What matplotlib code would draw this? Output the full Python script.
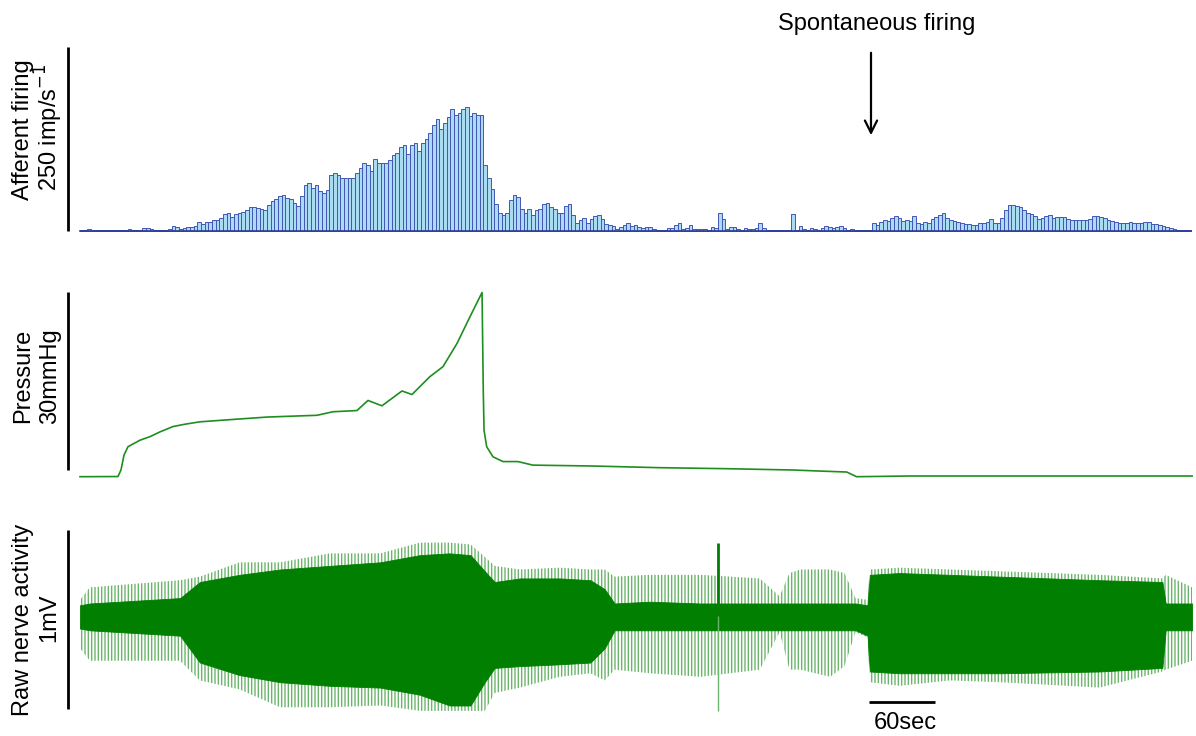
import numpy as np
import matplotlib
matplotlib.use("Agg")
import matplotlib.pyplot as plt

plt.rcParams['font.family'] = ['Liberation Sans', 'DejaVu Sans']
plt.rcParams['hatch.linewidth'] = 1.0

# ---- afferent firing histogram (imp/s), bins of 10/3 s starting at t=0 ----
BIN_S = 10.0 / 3.0
firing = [
    # 0-145 s
    1, 2, 3, 2, 1, 1, 1, 1, 2, 2, 1, 1, 1, 3, 2, 2, 2, 4, 4, 3, 2, 2, 2, 2,
    3, 7, 5, 3, 4, 6, 5, 7, 12, 10, 12, 12, 15, 15, 18, 23, 24, 19, 23, 24,
    # 145-366 s (rising phase)
    26, 29, 33, 33, 31, 30, 29, 35, 41, 44, 48, 49, 45, 44, 38, 34, 48, 63,
    65, 58, 63, 54, 52, 56, 76, 79, 76, 72, 72, 72, 72, 79, 86, 92, 90, 82,
    98, 92, 92, 92, 97, 103, 106, 114, 117, 105, 117, 120, 109, 120, 125,
    133, 144, 152, 139, 147, 155, 166, 158, 160, 166, 169, 156, 160, 158, 158,
    # 366-509 s (after release)
    90, 72, 57, 37, 24, 22, 24, 42, 49, 46, 30, 24, 30, 22, 29, 30, 37, 38,
    33, 30, 24, 24, 34, 37, 22, 11, 15, 18, 11, 16, 20, 22, 16, 10, 8, 7, 3,
    5, 8, 11, 7, 8, 5,
    # 509-726 s
    4, 5, 5, 3, 2, 1, 1, 4, 4, 8, 11, 3, 4, 8, 3, 3, 3, 3, 1, 5, 4, 24, 16,
    3, 5, 5, 3, 2, 4, 3, 3, 4, 11, 4, 2, 1, 1, 1, 1, 2, 1, 23, 2, 7, 3, 2, 4,
    3, 1, 4, 7, 5, 4, 5, 7, 4, 2, 3, 2, 1, 1, 2, 2, 11, 8,
    # 726-1010 s (spontaneous firing)
    12, 15, 14, 18, 20, 18, 14, 15, 14, 20, 11, 10, 12, 11, 16, 19, 22, 24,
    18, 15, 14, 12, 11, 10, 10, 8, 8, 11, 11, 12, 16, 11, 11, 18, 29, 35, 35,
    34, 33, 29, 24, 23, 20, 16, 18, 20, 22, 18, 19, 19, 19, 16, 15, 15, 15,
    15, 15, 16, 20, 20, 19, 18, 15, 14, 12, 11, 11, 11, 12, 11, 11, 11, 12,
    12, 10, 10, 8, 7, 5, 4, 3, 1, 2, 1, 1,
]

# ---- intravesical pressure (mmHg) ----
pressure_t = [0, 34.5, 37.3, 40, 43.6, 54.5, 63.6, 72.7, 84.5, 95.5, 109, 139,
              170, 184.5, 215.5, 230, 251.8, 261.8, 274.5, 292.7, 301.8, 318,
              330, 342.7, 354.5, 365.5, 366.6, 367.3, 369.7, 375.5, 384.5, 398,
              411.8, 466.4, 527, 588, 648, 672.7, 697, 706, 754.5, 1011]
pressure = [0.05, 0.08, 1.2, 3.7, 5.1, 6.2, 6.8, 7.6, 8.5, 8.9, 9.3, 9.7,
            10.1, 10.2, 10.4, 11.0, 11.2, 12.9, 12.0, 14.5, 13.9, 16.9,
            18.6, 22.5, 27.0, 31.1, 14.7, 7.9, 5.1, 3.4, 2.6, 2.6,
            2.0, 1.85, 1.57, 1.4, 1.18, 1.0, 0.84, 0.05, 0.17, 0.17]

# ---- raw nerve activity envelope (mV) ----
raw_t = [0, 9, 91, 109, 145, 182, 227, 273, 309, 336, 355, 368, 377, 400, 436,
         464, 477, 486, 518, 564, 618, 636, 645, 655, 682, 695, 705, 716, 718,
         745, 791, 836, 927, 984, 987, 1011]
core_hi = [0.06, 0.07, 0.10, 0.19, 0.23, 0.26, 0.28, 0.30, 0.34, 0.35, 0.34,
           0.25, 0.19, 0.21, 0.21, 0.20, 0.15, 0.07, 0.08, 0.07, 0.07, 0.07,
           0.07, 0.07, 0.07, 0.07, 0.07, 0.06, 0.23, 0.24, 0.23, 0.22, 0.20,
           0.19, 0.07, 0.07]
core_lo = [-0.07, -0.08, -0.11, -0.26, -0.33, -0.37, -0.39, -0.40, -0.44,
           -0.50, -0.50, -0.37, -0.29, -0.28, -0.27, -0.26, -0.18, -0.08,
           -0.08, -0.08, -0.08, -0.08, -0.08, -0.08, -0.08, -0.08, -0.08,
           -0.11, -0.31, -0.32, -0.32, -0.32, -0.31, -0.29, -0.08, -0.08]
spike_hi = [0.09, 0.16, 0.20, 0.22, 0.30, 0.30, 0.35, 0.35, 0.41, 0.41, 0.40,
            0.33, 0.28, 0.26, 0.27, 0.26, 0.26, 0.22, 0.23, 0.23, 0.21, 0.11,
            0.24, 0.26, 0.26, 0.24, 0.10, 0.09, 0.26, 0.27, 0.26, 0.25, 0.23,
            0.21, 0.23, 0.16]
spike_lo = [-0.18, -0.25, -0.25, -0.36, -0.41, -0.51, -0.51, -0.50, -0.53,
            -0.53, -0.53, -0.53, -0.43, -0.40, -0.34, -0.32, -0.36, -0.30,
            -0.32, -0.34, -0.30, -0.09, -0.30, -0.30, -0.34, -0.28, -0.09,
            -0.12, -0.37, -0.39, -0.36, -0.37, -0.40, -0.31, -0.30, -0.25]
big_spike_t = [580]
big_spike_hi = [0.41]
big_spike_lo = [-0.53]

W, H = 1196, 736
PX_PER_SEC = 1.1

fig = plt.figure(figsize=(W / 100, H / 100), dpi=100)


def panel(base_px, px_per_unit):
    ax = fig.add_axes([0, 0, 1, 1])
    ax.set_xlim(-80 / PX_PER_SEC, (W - 80) / PX_PER_SEC)
    ax.set_ylim((base_px - H) / px_per_unit, base_px / px_per_unit)
    ax.axis('off')
    return ax


def label(x, y, s):
    fig.text(x / W, 1 - y / H, s, rotation=90, ha='center', va='center', fontsize=17)


bar_x = -12 / PX_PER_SEC

# afferent firing
ax1 = panel(231, 184 / 250)
edges = np.arange(len(firing)) * BIN_S
ax1.bar(edges, firing, width=BIN_S, align='edge', facecolor='#a9dcf2',
        edgecolor='#4356b4', linewidth=0.7)
ax1.plot([0, len(firing) * BIN_S], [0, 0], color='#2b3c9a', lw=1.2)
ax1.plot([bar_x, bar_x], [0, 250], color='black', lw=2, solid_capstyle='butt', clip_on=False)
label(23, 130, 'Afferent firing')
label(49, 127, '250 imp/s$^{-1}$')

# pressure
ax2 = panel(477, 178 / 30)
ax2.plot(pressure_t, pressure, color='#1e8e1e', lw=1.2)
ax2.plot([bar_x, bar_x], [1.2, 31.2], color='black', lw=2, solid_capstyle='butt')
label(23, 376, 'Pressure')
label(50, 376, '30mmHg')

# raw nerve activity
ax3 = panel(616, 179)
ax3.fill_between(raw_t, spike_lo, spike_hi, facecolor='none', edgecolor='#6cb56c',
                 hatch='|||||', linewidth=0)
ax3.fill_between(raw_t, core_lo, core_hi, color='#007f00', linewidth=0.6)
ax3.vlines(big_spike_t, 0, big_spike_hi, color='#007f00', lw=2)
ax3.vlines(big_spike_t, big_spike_lo, 0, color='#6cb56c', lw=1)
ax3.plot([bar_x, bar_x], [-0.52, 0.48], color='black', lw=2, solid_capstyle='butt')
ax3.plot([717.3, 777.3], [-0.48, -0.48], color='black', lw=2, solid_capstyle='butt')
ax3.text(750, -0.6, '60sec', ha='center', va='center', fontsize=17)
label(23, 620, 'Raw nerve activity')
label(49, 618, '1mV')

# annotation
fig.text(877 / W, 1 - 24 / H, 'Spontaneous firing', ha='center', va='center', fontsize=17)
fig.add_artist(matplotlib.patches.FancyArrowPatch(
    (871 / W, 1 - 50 / H), (871 / W, 1 - 138 / H), transform=fig.transFigure,
    arrowstyle='->', mutation_scale=22, color='black', lw=1.6))

fig.savefig('out.png', dpi=100)
